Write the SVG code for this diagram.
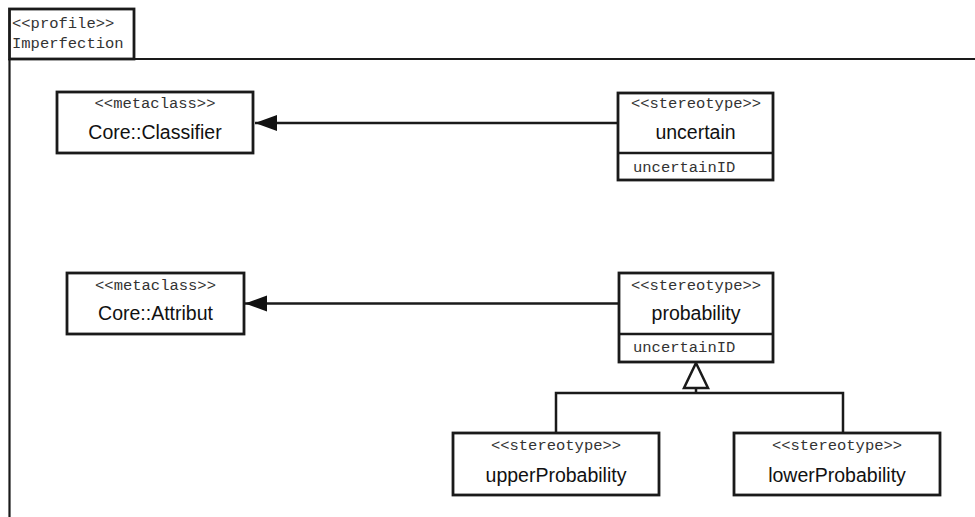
<svg xmlns="http://www.w3.org/2000/svg" width="975" height="517" viewBox="0 0 975 517">
<defs>
<style>
.box{fill:#fff;stroke:#1a1a1a;stroke-width:2.8}
.ln{fill:none;stroke:#1a1a1a;stroke-width:2.5}
.fr{fill:none;stroke:#1a1a1a;stroke-width:2.2}
.mono{font-family:"Liberation Mono","Courier New",monospace;font-size:15.5px;fill:#333}
.name{font-family:"Liberation Sans",Arial,sans-serif;font-size:19.5px;fill:#111}
.c{text-anchor:middle}
</style>
<marker id="fill" markerWidth="24" markerHeight="18" refX="22" refY="8" orient="auto" markerUnits="userSpaceOnUse">
<path d="M0,0 L22,8 L0,16 Z" fill="#111"/>
</marker>
</defs>
<rect width="975" height="517" fill="#fff"/>
<g id="frame">
<rect x="9.5" y="9" width="124.5" height="50" class="box" stroke-width="2.2"/>
<path d="M9.5,59 L975,59 M9.5,59 L9.5,517" class="fr"/>
<text x="12" y="28" class="mono">&lt;&lt;profile&gt;&gt;</text>
<text x="12" y="48" class="mono">Imperfection</text>
</g>
<g id="connectors">
<line x1="618" y1="123" x2="255" y2="123" class="ln" marker-end="url(#fill)"/>
<line x1="619" y1="303.5" x2="245" y2="303.5" class="ln" marker-end="url(#fill)"/>
<path d="M556,433 L556,393 L843,393 L843,433 M696,393 L696,388" class="ln"/>
<path d="M696,363 L708,388 L684,388 Z" fill="#fff" stroke="#1a1a1a" stroke-width="2.5"/>
</g>
<g id="classifier">
<rect x="57" y="92" width="196" height="61" class="box"/>
<text x="155" y="108" class="mono c">&lt;&lt;metaclass&gt;&gt;</text>
<text x="155" y="139" class="name c">Core::Classifier</text>
</g>
<g id="uncertain">
<rect x="618" y="93" width="155" height="87" class="box"/>
<line x1="618" y1="153" x2="773" y2="153" class="ln"/>
<text x="696" y="108" class="mono c">&lt;&lt;stereotype&gt;&gt;</text>
<text x="695.5" y="139" class="name c">uncertain</text>
<text x="633" y="172" class="mono">uncertainID</text>
</g>
<g id="attribut">
<rect x="67" y="273" width="177" height="61" class="box"/>
<text x="155.5" y="290" class="mono c">&lt;&lt;metaclass&gt;&gt;</text>
<text x="155.5" y="320" class="name c">Core::Attribut</text>
</g>
<g id="probability">
<rect x="619" y="273" width="154" height="89" class="box"/>
<line x1="619" y1="334" x2="773" y2="334" class="ln"/>
<text x="696" y="290" class="mono c">&lt;&lt;stereotype&gt;&gt;</text>
<text x="696" y="320" class="name c">probability</text>
<text x="633" y="352" class="mono">uncertainID</text>
</g>
<g id="upperProbability">
<rect x="453" y="433" width="206" height="62" class="box"/>
<text x="556" y="450" class="mono c">&lt;&lt;stereotype&gt;&gt;</text>
<text x="556" y="482" class="name c">upperProbability</text>
</g>
<g id="lowerProbability">
<rect x="734" y="433" width="206" height="62" class="box"/>
<text x="837" y="450" class="mono c">&lt;&lt;stereotype&gt;&gt;</text>
<text x="837" y="482" class="name c">lowerProbability</text>
</g>
</svg>
